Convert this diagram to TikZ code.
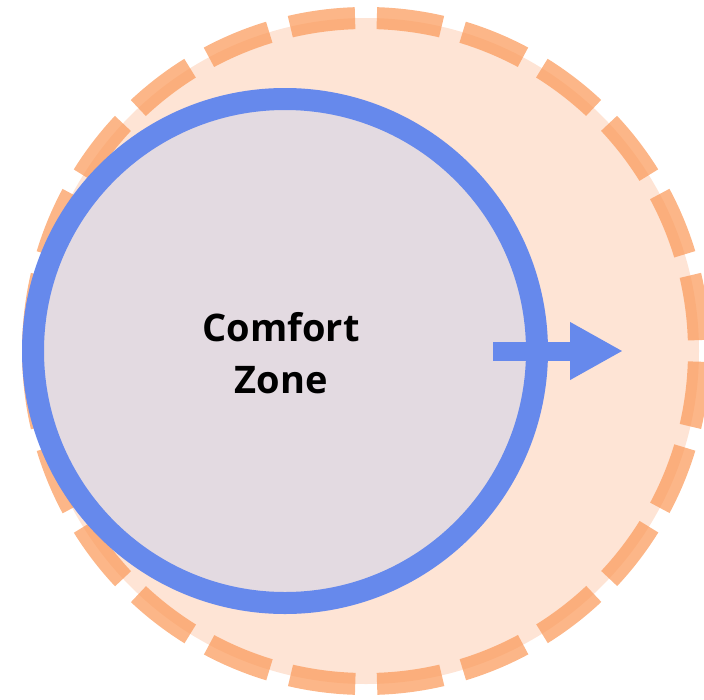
\documentclass[tikz,border=0pt]{standalone}
\usepackage{fontspec}
\setmainfont{Open Sans}
\usetikzlibrary{arrows.meta}
\definecolor{peach}{HTML}{FEE4D5}
\definecolor{dashorange}{HTML}{FB9A5A}
\definecolor{zoneblue}{HTML}{6689EC}
\definecolor{zonefill}{HTML}{E3DAE1}
\tikzset{
  outerring/.style={draw=dashorange, draw opacity=0.72, line width=22pt,
    dash pattern=on 65.4pt off 21.8pt, dash phase=76.3pt},
  innerring/.style={draw=zoneblue, fill=zonefill, line width=22pt},
  growarrow/.style={draw=zoneblue, line width=19pt, -{Triangle[length=53pt,width=54pt]}},
  zonelabel/.style={font=\bfseries\fontsize{38}{52}\selectfont, align=center, text=black}
}
\begin{document}
\begin{tikzpicture}[x=1pt,y=-1pt]
\useasboundingbox (0,0) rectangle (704,699);
\coordinate (oc) at (366,351);
\coordinate (ic) at (285,351);
\fill[peach] (oc) circle[radius=333pt];
\path[outerring] (oc) circle[radius=333pt];
\path[innerring] (ic) circle[radius=252pt];
\coordinate (as) at (493,351);
\coordinate (ae) at (623,351);
\draw[growarrow] (as) -- (ae);
\node[zonelabel] (cz) at (281,353) {Comfort\\Zone};
\end{tikzpicture}
\end{document}
